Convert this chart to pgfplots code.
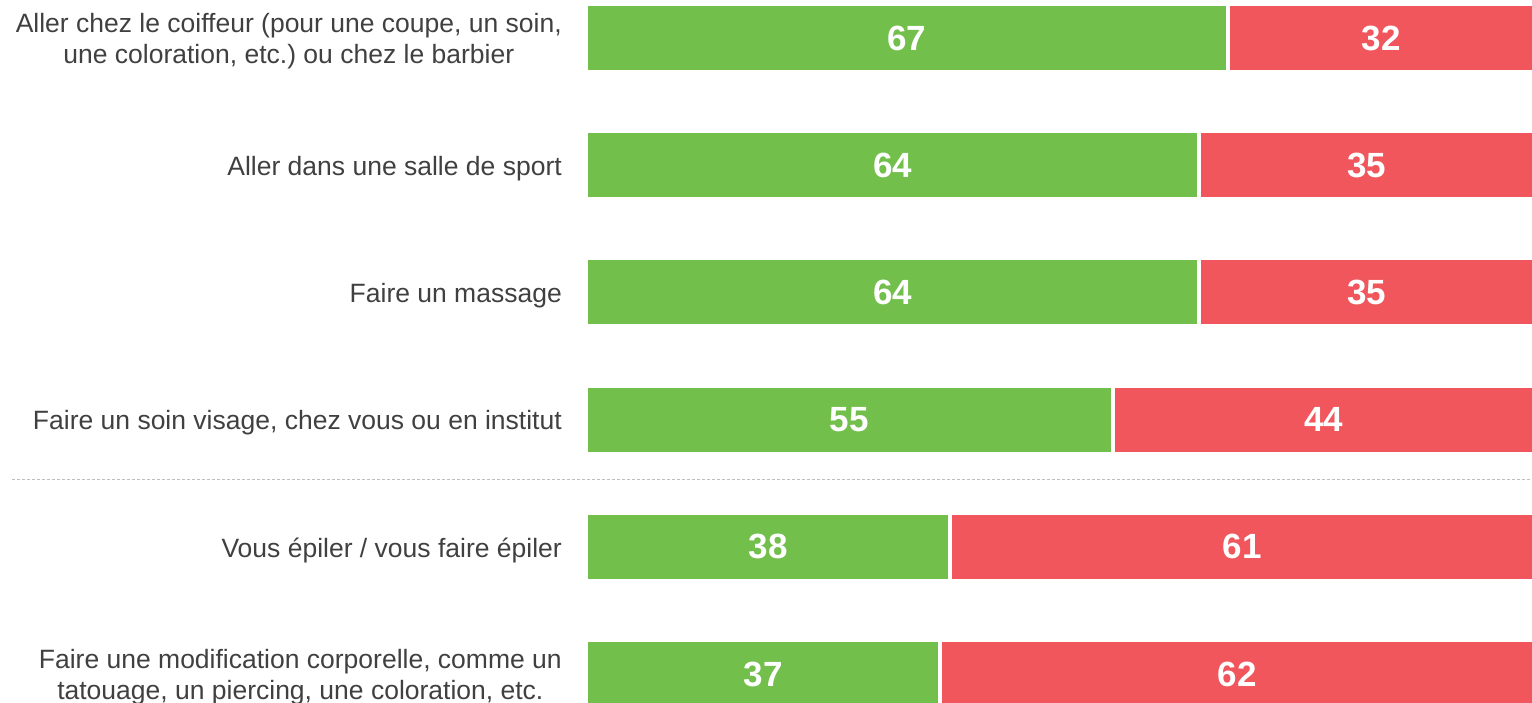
\documentclass[border=0pt]{standalone}
\usepackage{pgfplots}
\usepackage{pgfplotstable}
\pgfplotsset{compat=1.18}
\usepackage{fontspec}
\setmainfont{Liberation Sans}
\frenchspacing
\definecolor{cgreen}{RGB}{114,191,76}
\definecolor{cred}{RGB}{240,86,91}
\definecolor{labelgray}{RGB}{64,64,64}
\definecolor{dotgray}{RGB}{190,190,190}
\pgfplotstableread{
idx yes no
0 67 32
1 64 35
2 64 35
3 55 44
4 38 61
5 37 62
}\data
\newcommand\labA{Aller chez le coiffeur (pour une coupe, un soin,\\une coloration, etc.) ou chez le barbier}
\newcommand\labF{Faire une modification corporelle, comme un\\tatouage, un piercing, une coloration, etc.}
\begin{document}
\begin{tikzpicture}
\useasboundingbox (0,0) rectangle (1532pt,703pt);
\pgfplotsset{common/.style={
  at={(586pt,0pt)}, anchor=south west,
  scale only axis, width=948.4pt, height=703pt,
  xmin=0, xmax=99, ymin=-0.2987, ymax=5.228, y dir=reverse,
  /pgf/number format/assume math mode=true,
  clip=false}}
\begin{axis}[common,
  xbar stacked, bar width=68pt,
  axis line style={draw=none}, xtick=\empty, ytick={0,1,2,3,4,5},
  yticklabels={\labA,
    {Aller dans une salle de sport},
    {Faire un massage},
    {Faire un soin visage, chez vous ou en institut},
    {Vous épiler / vous faire épiler},
    \labF},
  major tick length=0pt,
  ytick style={draw=none},
  yticklabel style={align=center, font=\fontsize{26.5pt}{31pt}\selectfont, text=labelgray, inner sep=0pt, xshift=-24pt, yshift=-3.5pt},
]
\draw[dotgray, line width=1.5pt, dash pattern=on 2.5pt off 2.5pt] (axis cs:-59.9,3.47) -- (axis cs:99,3.47);
\addplot[fill=cgreen, draw=white, line width=4pt] table[x=yes, y=idx] {\data};
\addplot[fill=cred, draw=white, line width=4pt] table[x=no, y=idx] {\data};
\end{axis}
\begin{axis}[common, hide axis]
\addplot[only marks, mark=none, nodes near coords, point meta=explicit,
  nodes near coords style={anchor=center, text=white, font=\fontsize{35pt}{40pt}\selectfont\bfseries}]
  table[x expr=\thisrow{yes}/2, y=idx, meta=yes] {\data};
\addplot[only marks, mark=none, nodes near coords, point meta=explicit,
  nodes near coords style={anchor=center, text=white, font=\fontsize{35pt}{40pt}\selectfont\bfseries}]
  table[x expr=\thisrow{yes}+\thisrow{no}/2, y=idx, meta=no] {\data};
\end{axis}
\end{tikzpicture}
\end{document}
